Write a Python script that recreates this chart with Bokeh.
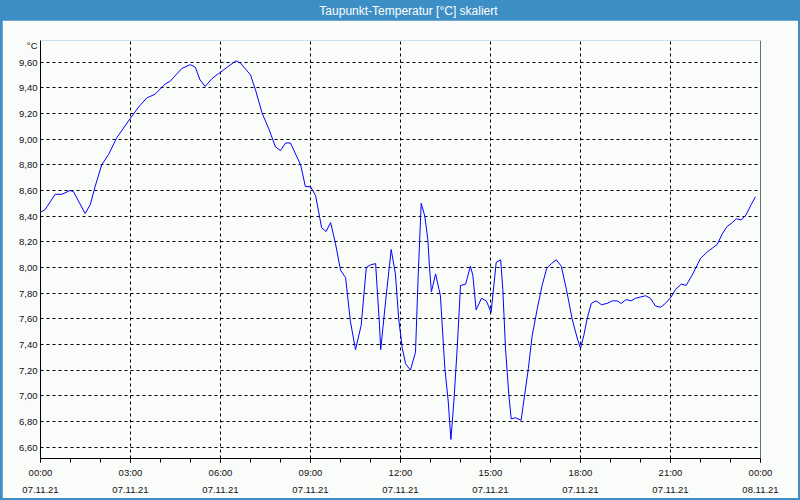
from bokeh.plotting import figure
from bokeh.models import Range1d, FixedTicker, Label, Span
from bokeh.layouts import column
from bokeh.embed import file_html
from bokeh.resources import INLINE

title_text = "Taupunkt-Temperatur [°C] skaliert"
unit_text = "°C"

# time of day in hours since 07.11.21 00:00
hours = [0.00, 0.15, 0.49, 0.71, 0.99, 1.10, 1.49, 1.66, 1.82, 2.04, 2.27, 2.54, 2.99,
         3.27, 3.54, 3.82, 4.16, 4.32, 4.71, 4.99, 5.16, 5.32, 5.49, 5.71, 5.93, 6.00,
         6.28, 6.52, 6.67, 7.00, 7.17, 7.39, 7.61, 7.83, 8.00, 8.17, 8.33, 8.67, 8.83,
         9.00, 9.17, 9.37, 9.52, 9.67, 9.83, 10.00, 10.17, 10.33, 10.50, 10.69, 10.86,
         11.00, 11.17, 11.30, 11.34, 11.50, 11.69, 11.83, 11.94, 12.06, 12.17, 12.33,
         12.50, 12.59, 12.69, 12.81, 12.91, 12.97, 13.03, 13.17, 13.33, 13.48, 13.59,
         13.68, 13.78, 13.89, 14.00, 14.17, 14.33, 14.41, 14.52, 14.70, 14.86, 15.02,
         15.19, 15.34, 15.41, 15.50, 15.61, 15.69, 15.83, 16.02, 16.11, 16.26, 16.39,
         16.56, 16.72, 16.87, 17.03, 17.19, 17.36, 17.53, 17.72, 17.89, 18.00, 18.11,
         18.22, 18.36, 18.52, 18.70, 18.89, 19.06, 19.22, 19.36, 19.52, 19.69, 19.83,
         20.00, 20.17, 20.33, 20.50, 20.67, 20.83, 21.02, 21.17, 21.36, 21.52, 21.72,
         22.00, 22.22, 22.39, 22.56, 22.72, 22.89, 23.06, 23.20, 23.36, 23.52, 23.69,
         23.83]

taupunkt = [8.43, 8.45, 8.57, 8.57, 8.60, 8.59, 8.42, 8.49, 8.63, 8.80, 8.88, 9.01, 9.16,
            9.25, 9.32, 9.35, 9.43, 9.45, 9.55, 9.58, 9.56, 9.46, 9.41, 9.47, 9.51, 9.52,
            9.57, 9.61, 9.59, 9.50, 9.38, 9.20, 9.08, 8.94, 8.91, 8.97, 8.97, 8.80, 8.63,
            8.63, 8.56, 8.31, 8.28, 8.35, 8.19, 7.98, 7.92, 7.58, 7.36, 7.55, 8.00,
            8.02, 8.03, 7.55, 7.36, 7.73, 8.14, 7.95, 7.60, 7.37, 7.25, 7.20,
            7.34, 7.94, 8.50, 8.40, 8.22, 7.99, 7.81, 7.95, 7.78, 7.21, 6.96,
            6.66, 6.96, 7.37, 7.86, 7.87, 8.01, 7.94, 7.67, 7.76, 7.74, 7.65,
            8.04, 8.06, 7.83, 7.37, 7.01, 6.82, 6.83, 6.81, 6.96, 7.21, 7.47,
            7.68, 7.86, 7.99, 8.03, 8.06, 8.01, 7.83, 7.60, 7.45, 7.37, 7.47,
            7.60, 7.72, 7.74, 7.71, 7.72, 7.74, 7.74, 7.72, 7.75, 7.74, 7.76,
            7.77, 7.78, 7.76, 7.70, 7.69, 7.72, 7.77, 7.83, 7.87, 7.86, 7.94,
            8.07, 8.12, 8.15, 8.18, 8.26, 8.32, 8.35, 8.38, 8.37, 8.41, 8.49,
            8.55]

y_ticks = [6.6, 6.8, 7.0, 7.2, 7.4, 7.6, 7.8, 8.0, 8.2, 8.4, 8.6, 8.8, 9.0, 9.2, 9.4, 9.6]
y_tick_labels = ["6,60", "6,80", "7,00", "7,20", "7,40", "7,60", "7,80", "8,00",
                 "8,20", "8,40", "8,60", "8,80", "9,00", "9,20", "9,40", "9,60"]
unit_position = 9.73   # where the unit sits on the value axis, just under the top
x_ticks = [0, 3, 6, 9, 12, 15, 18, 21, 24]
x_minor_ticks = list(range(0, 25))
x_tick_labels = ["00:00\n07.11.21", "03:00\n07.11.21", "06:00\n07.11.21",
                 "09:00\n07.11.21", "12:00\n07.11.21", "15:00\n07.11.21",
                 "18:00\n07.11.21", "21:00\n07.11.21", "00:00\n08.11.21"]

BLUE = "#3c8ec5"
BG = "#fafcfa"
FONT = "Liberation Sans"

# header bar
header = figure(width=800, height=20, x_range=Range1d(0, 1), y_range=Range1d(0, 1),
                min_border=0, x_axis_location=None, y_axis_location=None,
                toolbar_location=None, output_backend="svg",
                background_fill_color=BLUE, border_fill_color=BLUE, outline_line_color=None)
header.grid.visible = False
header.add_layout(Label(x=0.511, y=0.5, text=title_text, text_align="center",
                        text_baseline="middle", text_color="white", text_font=FONT,
                        text_font_size="12px"))

# main chart
p = figure(width=796, height=478, x_range=Range1d(0, 24), y_range=Range1d(6.512, 9.768),
           min_border_left=38, min_border_right=38, min_border_top=20, min_border_bottom=38,
           toolbar_location=None, output_backend="svg",
           background_fill_color=BG, border_fill_color=BG, outline_line_color=None)
p.margin = (0, 2, 2, 2)

p.line(hours, taupunkt, line_color="#0000ff", line_width=1)

xt = FixedTicker(ticks=x_ticks, minor_ticks=x_minor_ticks)
p.xaxis.ticker = xt
p.xaxis.major_label_overrides = {t: l for t, l in zip(x_ticks, x_tick_labels)}
p.xaxis.axis_line_color = "black"
p.xaxis.major_tick_out = 4
p.xaxis.major_tick_in = 0
p.xaxis.minor_tick_out = 4
p.xaxis.minor_tick_in = 0
p.xaxis.major_tick_line_color = "black"
p.xaxis.minor_tick_line_color = "black"
p.xaxis.major_label_standoff = 4
p.xaxis.major_label_text_font = FONT
p.xaxis.major_label_text_font_size = "9.5px"
p.xaxis.major_label_text_line_height = 1.6
p.xaxis.major_label_text_color = "#111111"

# axis ticker carries the unit label; grid ticker only the values
yt_axis = FixedTicker(ticks=y_ticks + [unit_position], minor_ticks=[])
yt_grid = FixedTicker(ticks=y_ticks, minor_ticks=[])
p.yaxis.ticker = yt_axis
overrides = {t: l for t, l in zip(y_ticks, y_tick_labels)}
overrides[unit_position] = unit_text
p.yaxis.major_label_overrides = overrides
p.yaxis.axis_line_color = "black"
p.yaxis.major_tick_out = 0
p.yaxis.major_tick_in = 0
p.yaxis.minor_tick_out = 0
p.yaxis.minor_tick_in = 0
p.yaxis.major_label_standoff = 3
p.yaxis.major_label_text_font = FONT
p.yaxis.major_label_text_font_size = "9.5px"
p.yaxis.major_label_text_color = "#111111"

p.xgrid.ticker = xt
p.ygrid.ticker = yt_grid
for g in (p.xgrid, p.ygrid):
    g.grid_line_color = "black"
    g.grid_line_dash = "3 3"
    g.grid_line_width = 1

p.add_layout(Span(location=24, dimension="height", line_color="black", line_width=1))

layout = column(header, p, spacing=0, background=BLUE)

open("out.html", "w").write(file_html(layout, INLINE))
